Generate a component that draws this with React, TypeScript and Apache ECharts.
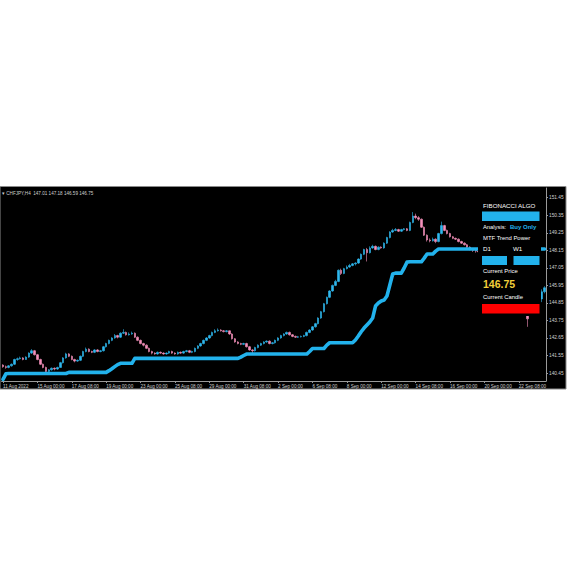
import React, { useEffect, useRef } from "react";
import * as echarts from "echarts";

const headerText = "▾ CHFJPY,H4  147.01 147.18 146.59 146.75";
const currentPrice = 146.75;
const panelTitle = "FIBONACCI ALGO";
const analysisLabel = "Analysis:";
const analysisValue = "Buy Only";
const mtfLabel = "MTF Trend Power";
const tfLabels = ["D1", "W1"];
const currentPriceLabel = "Current Price";
const currentCandleLabel = "Current Candle";

const xTickLabels = [
  "11 Aug 2022", "15 Aug 00:00", "17 Aug 08:00", "19 Aug 00:00", "23 Aug 00:00",
  "25 Aug 08:00", "29 Aug 00:00", "31 Aug 08:00", "2 Sep 00:00", "6 Sep 08:00",
  "8 Sep 00:00", "12 Sep 00:00", "14 Sep 08:00", "16 Sep 00:00", "20 Sep 00:00",
  "22 Sep 08:00",
];
const barsPerLabel = 12;

const yTicks = [140.45, 141.55, 142.65, 143.75, 144.85, 145.95, 147.05, 148.15, 149.25, 150.35, 151.45];

// [open, close, low, high]
const candles: number[][] = [
  [140.95, 140.85, 140.78, 141.0], [140.85, 140.8, 140.72, 140.92], [140.8, 140.9, 140.75, 140.95], [140.9, 141.0, 140.85, 141.05],
  [141.0, 141.3, 140.95, 141.35], [141.3, 141.35, 141.22, 141.42], [141.35, 141.4, 141.3, 141.48], [141.4, 141.3, 141.25, 141.45],
  [141.3, 141.45, 141.28, 141.5], [141.45, 141.7, 141.4, 141.75], [141.7, 141.85, 141.65, 141.95], [141.85, 141.6, 141.55, 141.9],
  [141.6, 141.3, 141.25, 141.65], [141.3, 141.0, 140.95, 141.35], [141.0, 140.8, 140.75, 141.05], [140.8, 140.55, 140.45, 140.85],
  [140.55, 140.65, 140.5, 140.7], [140.65, 140.75, 140.6, 140.8], [140.75, 140.7, 140.62, 140.8], [140.7, 140.8, 140.65, 140.85],
  [140.8, 141.1, 140.78, 141.15], [141.1, 141.4, 141.05, 141.45], [141.4, 141.65, 141.35, 141.72], [141.65, 141.5, 141.45, 141.7],
  [141.5, 141.3, 141.25, 141.55], [141.3, 141.2, 141.12, 141.35], [141.2, 141.25, 141.15, 141.3], [141.25, 141.5, 141.2, 141.55],
  [141.5, 141.8, 141.45, 141.85], [141.8, 141.95, 141.75, 142.05], [141.95, 141.8, 141.75, 142.0], [141.8, 141.75, 141.7, 141.85],
  [141.75, 141.9, 141.7, 141.95], [141.9, 141.8, 141.75, 141.95], [141.8, 141.85, 141.75, 141.9], [141.85, 142.1, 141.8, 142.15],
  [142.1, 142.3, 142.05, 142.35], [142.3, 142.5, 142.25, 142.55], [142.5, 142.65, 142.45, 142.7], [142.65, 142.8, 142.6, 142.9],
  [142.8, 142.7, 142.62, 142.85], [142.7, 142.95, 142.65, 143.0], [142.95, 143.0, 142.9, 143.2], [143.0, 142.85, 142.8, 143.05],
  [142.85, 142.9, 142.8, 143.0], [142.9, 142.95, 142.85, 143.05], [142.95, 142.7, 142.65, 143.0], [142.7, 142.5, 142.45, 142.75],
  [142.5, 142.3, 142.25, 142.55], [142.3, 142.2, 142.12, 142.35], [142.2, 142.0, 141.95, 142.25], [142.0, 141.8, 141.75, 142.05],
  [141.8, 141.7, 141.62, 141.85], [141.7, 141.65, 141.6, 141.75], [141.65, 141.75, 141.6, 141.8], [141.75, 141.7, 141.65, 141.8],
  [141.7, 141.65, 141.6, 141.75], [141.65, 141.7, 141.6, 141.75], [141.7, 141.8, 141.65, 141.85], [141.8, 141.7, 141.65, 141.85],
  [141.7, 141.65, 141.6, 141.75], [141.65, 141.75, 141.6, 141.8], [141.75, 141.7, 141.65, 141.8], [141.7, 141.8, 141.65, 141.85],
  [141.8, 141.85, 141.75, 141.9], [141.85, 141.75, 141.7, 141.9], [141.75, 141.8, 141.7, 141.85], [141.8, 142.0, 141.75, 142.05],
  [142.0, 142.15, 141.95, 142.2], [142.15, 142.3, 142.1, 142.35], [142.3, 142.5, 142.25, 142.55], [142.5, 142.65, 142.45, 142.7],
  [142.65, 142.8, 142.6, 142.85], [142.8, 143.0, 142.75, 143.05], [143.0, 143.1, 142.95, 143.2], [143.1, 143.15, 143.05, 143.25],
  [143.15, 143.1, 143.05, 143.2], [143.1, 143.05, 143.0, 143.15], [143.05, 143.1, 143.0, 143.15], [143.1, 142.9, 142.85, 143.12],
  [142.9, 142.6, 142.55, 142.95], [142.6, 142.4, 142.35, 142.65], [142.4, 142.3, 142.25, 142.45], [142.3, 142.25, 142.2, 142.35],
  [142.25, 142.3, 142.2, 142.35], [142.3, 142.1, 142.05, 142.35], [142.1, 141.9, 141.85, 142.15], [141.9, 141.85, 141.7, 141.95],
  [141.85, 142.05, 141.8, 142.1], [142.05, 142.2, 142.0, 142.25], [142.2, 142.3, 142.15, 142.35], [142.3, 142.4, 142.25, 142.45],
  [142.4, 142.45, 142.35, 142.5], [142.45, 142.3, 142.25, 142.5], [142.3, 142.35, 142.25, 142.4], [142.35, 142.5, 142.3, 142.55],
  [142.5, 142.65, 142.45, 142.7], [142.65, 142.8, 142.6, 142.85], [142.8, 142.9, 142.75, 142.95], [142.9, 143.0, 142.85, 143.05],
  [143.0, 142.85, 142.8, 143.05], [142.85, 142.75, 142.7, 142.9], [142.75, 142.7, 142.65, 142.8], [142.7, 142.72, 142.65, 142.78],
  [142.72, 142.75, 142.68, 142.8], [142.75, 142.8, 142.7, 142.85], [142.8, 143.0, 142.75, 143.05], [143.0, 143.15, 142.95, 143.2],
  [143.15, 143.35, 143.1, 143.4], [143.35, 143.55, 143.3, 143.6], [143.55, 143.9, 143.5, 143.95], [143.9, 144.3, 143.85, 144.35],
  [144.3, 144.8, 144.25, 144.85], [144.8, 145.2, 144.75, 145.25], [145.2, 145.6, 145.15, 145.65], [145.6, 145.95, 145.55, 146.0],
  [145.95, 146.2, 145.9, 146.3], [146.2, 146.9, 146.15, 146.95], [146.9, 146.7, 146.6, 147.0], [146.7, 147.0, 146.65, 147.05],
  [147.0, 147.1, 146.95, 147.2], [147.1, 147.2, 147.05, 147.3], [147.2, 147.3, 147.15, 147.35], [147.3, 147.35, 147.2, 147.4],
  [147.35, 147.6, 147.3, 147.65], [147.6, 147.9, 147.55, 147.95], [147.9, 148.2, 147.85, 148.25], [148.2, 148.0, 147.45, 148.3],
  [148.0, 148.3, 147.95, 148.4], [148.3, 148.4, 148.25, 148.5], [148.4, 148.2, 148.15, 148.45], [148.2, 148.35, 148.15, 148.4],
  [148.35, 148.3, 148.25, 148.4], [148.3, 148.6, 148.25, 148.65], [148.6, 148.95, 148.55, 149.0], [148.95, 149.3, 148.9, 149.35],
  [149.3, 149.4, 149.25, 149.5], [149.4, 149.45, 149.35, 149.55], [149.45, 149.35, 149.3, 149.5], [149.35, 149.45, 149.3, 149.5],
  [149.45, 149.5, 149.4, 149.55], [149.5, 149.4, 149.35, 149.55], [149.4, 149.9, 149.35, 149.95], [149.9, 150.3, 149.85, 150.55],
  [150.3, 150.2, 150.1, 150.45], [150.2, 150.1, 150.0, 150.3], [150.1, 149.6, 149.55, 150.15], [149.6, 149.1, 149.05, 149.65],
  [149.1, 148.8, 148.7, 149.15], [148.8, 148.75, 148.65, 148.9], [148.75, 148.85, 148.7, 148.95], [148.85, 148.7, 148.6, 148.9],
  [148.7, 149.2, 148.65, 149.25], [149.2, 149.7, 149.15, 149.95], [149.7, 149.4, 149.35, 149.75], [149.4, 149.2, 149.15, 149.45],
  [149.2, 149.0, 148.95, 149.25], [149.0, 148.9, 148.85, 149.05], [148.9, 148.85, 148.8, 148.95], [148.85, 148.7, 148.65, 148.9],
  [148.7, 148.6, 148.55, 148.75], [148.6, 148.5, 148.45, 148.65], [148.5, 148.35, 148.3, 148.55], [148.35, 148.2, 148.15, 148.4],
  [148.2, 148.15, 148.05, 148.25], [148.15, 148.1, 148.0, 148.2], [148.1, 148.05, 147.95, 148.15], [148.05, 148.1, 148.0, 148.2],
  [148.1, 148.2, 148.05, 148.25], [148.2, 148.0, 147.95, 148.25], [148.0, 148.1, 147.95, 148.15], [148.1, 148.3, 148.05, 148.35],
  [148.3, 148.2, 148.15, 148.35], [148.2, 148.0, 147.95, 148.25], [148.0, 147.9, 147.85, 148.05], [147.9, 148.1, 147.85, 148.15],
  [148.1, 148.2, 148.05, 148.25], [148.2, 148.0, 147.95, 148.25], [148.0, 147.8, 147.75, 148.05], [147.8, 147.5, 147.45, 147.85],
  [147.5, 147.0, 146.95, 147.55], [147.0, 146.3, 146.25, 147.05], [146.3, 145.0, 144.9, 146.35], [145.0, 143.85, 143.35, 145.05],
  [144.3, 144.9, 144.25, 145.0], [144.9, 145.2, 144.8, 145.3], [145.2, 145.0, 144.9, 145.35], [145.0, 145.1, 144.8, 145.3],
  [145.1, 145.55, 144.9, 145.7], [145.55, 145.8, 145.45, 145.9],
];

const algoLine: number[] = [
  140.05, 140.4,
  140.42, 140.42, 140.42, 140.42, 140.42, 140.42, 140.42, 140.42, 140.42, 140.42, 140.42,
  140.42, 140.42, 140.42, 140.42, 140.42, 140.42, 140.42, 140.42, 140.42, 140.42,
  140.49, 140.49, 140.49, 140.49, 140.49, 140.49, 140.49, 140.49, 140.49, 140.49, 140.49, 140.49, 140.49, 140.49,
  140.6, 140.72, 140.85, 140.98,
  141.06, 141.06, 141.06, 141.06, 141.06,
  141.37, 141.37, 141.37, 141.37, 141.37, 141.37, 141.37, 141.37, 141.37, 141.37,
  141.37, 141.37, 141.37, 141.37, 141.37, 141.37, 141.37, 141.37, 141.37, 141.37,
  141.37, 141.37, 141.37, 141.37, 141.37, 141.37, 141.37, 141.37, 141.37, 141.37,
  141.37, 141.37, 141.37, 141.37, 141.37, 141.37, 141.37,
  141.45, 141.55,
  141.64, 141.64, 141.64, 141.64, 141.64, 141.64, 141.64, 141.64, 141.64, 141.64, 141.64,
  141.64, 141.64, 141.64, 141.64, 141.64, 141.64, 141.64, 141.64, 141.64, 141.64, 141.64,
  141.8,
  141.99, 141.99, 141.99, 141.99, 141.99,
  142.2,
  142.35, 142.35, 142.35, 142.35, 142.35, 142.35, 142.35, 142.35, 142.35,
  142.52, 142.77, 143.04, 143.27, 143.46, 143.65, 143.9, 144.65, 144.84, 144.97, 145.03, 145.28, 145.97, 146.66,
  146.72, 146.72, 146.72,
  147.04, 147.41,
  147.43, 147.43, 147.43, 147.43, 147.43,
  147.66,
  147.92, 147.92, 147.92,
  148.1,
  148.23, 148.23, 148.23, 148.23, 148.23, 148.23, 148.23, 148.23, 148.23, 148.23,
  148.23, 148.23, 148.23, 148.23, 148.23, 148.23, 148.23, 148.23, 148.23, 148.23,
  148.23, 148.23, 148.23, 148.23, 148.23, 148.23, 148.23, 148.23, 148.23, 148.23,
  148.23, 148.23, 148.23, 148.23, 148.23, 148.23, 148.23, 148.23,
];

const UP = "#2fb8ef";
const DOWN = "#f590bb";
const LINE = "#22b2ec";
const FONT = "Liberation Sans, Arial, sans-serif";

export default function App() {
  const ref = useRef<HTMLDivElement>(null);
  useEffect(() => {
    if (!ref.current) return;
    const chart = echarts.init(ref.current, null, { renderer: "svg" });
    const categories = candles.map((_, i) => String(i));
    const px = 478;
    const option: any = {
      animation: false,
      backgroundColor: "#ffffff",
      grid: { left: 1.5, right: 28, top: 188, bottom: 193, containLabel: false },
      xAxis: {
        type: "category",
        data: categories,
        boundaryGap: true,
        axisLine: { show: true, lineStyle: { color: "#9a9a9a", width: 1 } },
        axisTick: {
          show: true,
          length: 2,
          lineStyle: { color: "#9a9a9a" },
          interval: (i: number) => i % barsPerLabel === 0,
          alignWithLabel: true,
        },
        axisLabel: {
          interval: (i: number) => i % barsPerLabel === 0,
          formatter: (_v: string, i: number) =>
            i % barsPerLabel === 0 ? xTickLabels[i / barsPerLabel] ?? "" : "",
          color: "#d0d0d0",
          fontSize: 4.6,
          fontFamily: FONT,
          align: "left",
          margin: 2.5,
        },
        splitLine: { show: false },
      },
      yAxis: {
        type: "value",
        position: "right",
        min: 139.95,
        max: 152.06,
        axisLine: { show: true, lineStyle: { color: "#9a9a9a", width: 1 } },
        axisTick: { show: true, length: 2, customValues: yTicks, lineStyle: { color: "#9a9a9a" } },
        axisLabel: {
          customValues: yTicks,
          formatter: (v: number) => v.toFixed(2),
          color: "#d0d0d0",
          fontSize: 4.8,
          fontFamily: FONT,
          margin: 3,
        },
        splitLine: { show: false },
      },
      series: [
        {
          type: "candlestick",
          data: candles,
          barWidth: 2,
          itemStyle: { color: UP, color0: DOWN, borderColor: UP, borderColor0: DOWN, borderWidth: 0.6 },
          z: 3,
          markLine: {
            symbol: "none",
            silent: true,
            lineStyle: { opacity: 0 },
            label: {
              show: true,
              position: "end",
              formatter: () => currentPrice.toFixed(2),
              backgroundColor: "#ffffff",
              color: "#000000",
              fontSize: 4.8,
              fontFamily: FONT,
              padding: [0.5, 1],
              distance: 1,
            },
            data: [{ yAxis: currentPrice }],
          },
        },
        {
          type: "line",
          data: algoLine,
          symbol: "none",
          lineStyle: { color: LINE, width: 3.6, cap: "round", join: "round" },
          z: 4,
        },
      ],
      graphic: [
        { type: "rect", z: -5, shape: { x: 0, y: 186.5, width: 566, height: 202.5 }, style: { fill: "#000", stroke: "#8a8a8a", lineWidth: 1 } },
        { type: "text", z: 50, x: 2, y: 193, style: { text: headerText, fill: "#cfcfcf", fontSize: 4.6, fontFamily: FONT, verticalAlign: "middle" } },
        { type: "rect", z: 50, shape: { x: px, y: 196, width: 63, height: 120 }, style: { fill: "#000" } },
        { type: "text", z: 51, x: 483, y: 205, style: { text: panelTitle, fill: "#ffffff", fontSize: 6.2, fontFamily: FONT, verticalAlign: "middle" } },
        { type: "rect", z: 51, shape: { x: 482, y: 211.5, width: 57.5, height: 9.5 }, style: { fill: LINE } },
        { type: "text", z: 51, x: 483, y: 226.5, style: { text: analysisLabel, fill: "#ffffff", fontSize: 5.8, fontFamily: FONT, verticalAlign: "middle" } },
        { type: "text", z: 51, x: 510, y: 226.5, style: { text: analysisValue, fill: LINE, fontSize: 6, fontWeight: "bold", fontFamily: FONT, verticalAlign: "middle" } },
        { type: "text", z: 51, x: 483, y: 237.5, style: { text: mtfLabel, fill: "#ffffff", fontSize: 5.9, fontFamily: FONT, verticalAlign: "middle" } },
        { type: "text", z: 51, x: 483, y: 248.5, style: { text: tfLabels[0], fill: "#ffffff", fontSize: 6.2, fontFamily: FONT, verticalAlign: "middle" } },
        { type: "text", z: 51, x: 513, y: 248.5, style: { text: tfLabels[1], fill: "#ffffff", fontSize: 6.2, fontFamily: FONT, verticalAlign: "middle" } },
        { type: "rect", z: 51, shape: { x: 482, y: 256, width: 25, height: 9 }, style: { fill: LINE } },
        { type: "rect", z: 51, shape: { x: 513.5, y: 256, width: 26, height: 9 }, style: { fill: LINE } },
        { type: "text", z: 51, x: 483, y: 270.5, style: { text: currentPriceLabel, fill: "#ffffff", fontSize: 5.9, fontFamily: FONT, verticalAlign: "middle" } },
        { type: "text", z: 51, x: 483, y: 284, style: { text: currentPrice.toFixed(2), fill: "#f3cf3a", fontSize: 10.5, fontWeight: "bold", fontFamily: FONT, verticalAlign: "middle" } },
        { type: "text", z: 51, x: 483, y: 296.5, style: { text: currentCandleLabel, fill: "#ffffff", fontSize: 5.9, fontFamily: FONT, verticalAlign: "middle" } },
        { type: "rect", z: 51, shape: { x: 482, y: 304, width: 57.5, height: 9.5 }, style: { fill: "#ff0000" } },
      ],
    };
    chart.setOption(option);
    return () => chart.dispose();
  }, []);
  return (
    <div
      ref={ref}
      style={{ position: "fixed", left: 0, top: 0, width: 574, height: 574, background: "#ffffff" }}
    />
  );
}
